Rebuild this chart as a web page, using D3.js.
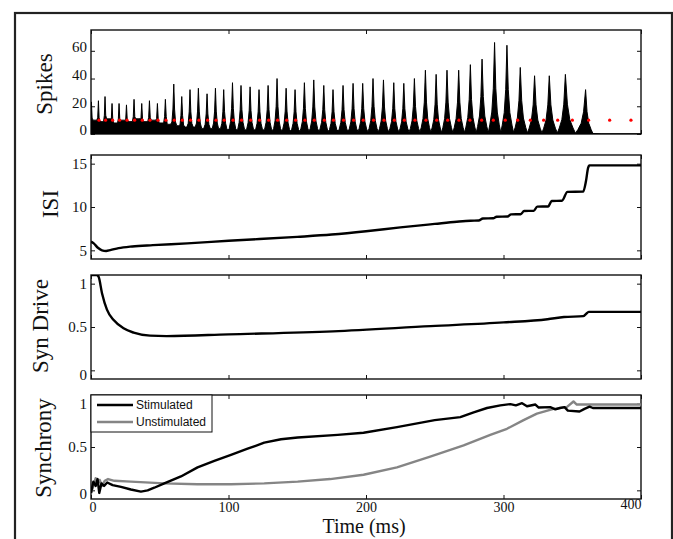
<!DOCTYPE html>
<html>
<head>
<meta charset="utf-8">
<script src="https://cdn.jsdelivr.net/npm/d3@7"></script>
<style>
  body { margin: 0; background: #fff; }
  svg { display: block; }
</style>
</head>
<body>
<svg></svg>
<script>
// ---- data ----
const timeTicks = [0, 100, 200, 300, 400]

// spike histogram: one peak per cycle, plus the level the trace falls to after it
const spikePeakTimes = [0.3, 5.4, 10.2, 15.3, 20.4, 25.8, 31.3, 36.9, 42.5, 48.3,
  54.1, 60.2, 66.0, 72.0, 78.1, 84.4, 90.5, 96.5, 102.9, 109.1,
  115.7, 122.2, 128.8, 135.3, 141.9, 148.4, 155.2, 162.0, 169.3, 176.0,
  183.3, 190.6, 197.6, 205.1, 212.7, 220.2, 227.5, 235.2, 243.2, 251.0,
  258.9, 267.4, 275.9, 284.4, 293.5, 302.5, 312.2, 322.6, 333.3, 345.0, 359.7]
const spikePeakCounts = [23, 24, 27, 22, 22, 21, 25, 22, 24, 22,
  25, 36, 27, 32, 33, 29, 33, 32, 37, 35,
  34, 32, 35, 40, 33, 32, 37, 39, 35, 32,
  35, 36.5, 36.5, 40, 39, 37, 36.5, 40, 46, 43,
  46, 46, 50, 54, 66, 64, 48, 42, 42, 43, 32]
const spikeTroughCounts = [10, 9, 11, 8, 10, 9, 11, 9, 10, 8,
  7, 6, 5, 5, 4, 4, 4, 3,
  3, 3, 3, 3, 2.5, 2.5, 2.5, 2, 2, 2, 2, 2,
  2, 2, 1.5, 1.5, 1.5, 1.5, 1.5, 1.5, 1.5, 1, 1, 1, 1,
  1, 1, 1, 0.8, 0.8, 0.8, 0.6, 0.4]
const spikeTicks = [0, 20, 40, 60]

// red markers: expected cycle times
const cycleTimes = [5.8, 10.6, 15.7, 20.8, 26.2, 31.7, 37.3, 42.9, 48.7, 54.5,
  60.6, 66.4, 72.4, 78.5, 84.8, 90.9, 96.9, 103.3, 109.5, 116.1,
  122.6, 129.2, 135.7, 142.3, 148.8, 155.6, 162.4, 169.7, 176.4, 183.7,
  191.0, 198.0, 205.5, 213.1, 220.6, 227.9, 235.6, 243.6, 251.4, 259.4,
  267.6, 275.6, 284.1, 292.6, 301.3, 310.3, 319.5, 329.2, 339.4, 350.1,
  361.9, 377.2, 392.7]
const cycleLevel = 10

const isiTimes = [0, 2, 5, 8, 11, 14, 20, 30, 45, 70, 100, 150, 175, 200, 225, 250, 266, 276,
  282, 285, 292.5, 295, 303, 305.5, 312.5, 315, 322, 324.5, 332.5, 335, 342.5, 346.5, 358,
  360, 361.5, 362.5, 400]
const isiValues = [6.0, 5.8, 5.3, 5.0, 4.93, 5.02, 5.25, 5.45, 5.6, 5.8, 6.1, 6.55, 6.82, 7.2, 7.65, 8.05, 8.3, 8.42,
  8.45, 8.68, 8.7, 8.88, 8.9, 9.15, 9.17, 9.54, 9.56, 10.04, 10.06, 10.7, 10.72, 11.75, 11.78,
  13.0, 14.5, 14.8, 14.8]
const isiTicks = [5, 10, 15]

const driveTimes = [0, 4, 5.5, 8, 11.6, 16.5, 23.7, 31, 43, 55, 100, 176, 247, 300, 332, 344, 358, 360, 362, 400]
const driveValues = [1.1, 1.1, 1.08, 0.89, 0.70, 0.58, 0.485, 0.435, 0.40, 0.395, 0.415, 0.45, 0.51, 0.553, 0.59, 0.615, 0.625, 0.65, 0.675, 0.675]
const driveTicks = [0, 0.5, 1]

const stimTimes = [0, 1.7, 3.4, 4.8, 6, 7.6, 9.5, 11.8, 15.7, 21.8, 29, 36.3, 41.2, 46, 53.3, 65.4, 77.5,
  89.7, 101.8, 113.9, 126, 138.2, 150.3, 179.4, 198.2, 222.5, 250, 268.6, 278.3, 288, 297.7,
  305, 309, 313.5, 317.1, 323.2, 325.6, 334, 337.7, 341, 344.4, 346.8, 355.3, 358.9, 362.6, 365, 400]
const stimValues = [-0.03, 0.10, 0.05, 0.13, -0.03, 0.08, 0.05, 0.09, 0.06, 0.04, 0.01, -0.015, 0.0, 0.03, 0.08, 0.16, 0.265,
  0.34, 0.41, 0.48, 0.55, 0.59, 0.61, 0.64, 0.665, 0.73, 0.81, 0.845, 0.9, 0.95, 0.98,
  0.995, 0.98, 1.005, 0.97, 0.99, 0.955, 0.96, 0.935, 0.95, 0.96, 0.92, 0.91, 0.94, 0.965, 0.95, 0.95]

const unstimTimes = [0, 1.7, 3.4, 5, 6.3, 8, 10, 12.4, 17, 29, 53.3, 77.5, 101.8, 126, 150.3, 174, 198.2,
  222.5, 246.7, 271, 290.4, 302.5, 314.6, 324.3, 336.4, 346, 350.9, 353.3, 400]
const unstimValues = [-0.03, 0.05, 0.14, 0.08, 0.12, 0.05, 0.11, 0.13, 0.11, 0.10, 0.08, 0.07, 0.07, 0.08, 0.10, 0.13, 0.18,
  0.265, 0.39, 0.52, 0.64, 0.71, 0.81, 0.885, 0.94, 0.96, 1.025, 0.99, 0.99]
const syncTicks = [0, 0.5, 1]

const seriesNames = ["Stimulated", "Unstimulated"]

// ---- layout ----
const width = 673, height = 539
const serif = "'Liberation Serif', 'Times New Roman', serif"

const svg = d3.select("svg").attr("width", width).attr("height", height)

svg.append("rect")
  .attr("x", 15).attr("y", 13).attr("width", 657).attr("height", 560)
  .attr("fill", "none").attr("stroke", "#222").attr("stroke-width", 2.2)

const x = d3.scaleLinear().domain([0, 400]).range([91, 641])

const panels = [
  {id: "spk", title: "Spikes", top: 30, bottom: 134, domain: [0, 75], ticks: spikeTicks, titleX: 52, titleY: 84, labelShift: () => -4},
  {id: "isi", title: "ISI", top: 155, bottom: 259, domain: [4, 16], ticks: isiTicks, titleX: 58, titleY: 204, labelShift: () => 0},
  {id: "drv", title: "Syn Drive", top: 275, bottom: 379, domain: [-0.1, 1.1], ticks: driveTicks, titleX: 48, titleY: 326, labelShift: d => d === 0 ? 4 : 0},
  {id: "syn", title: "Synchrony", top: 395, bottom: 499, domain: [-0.1, 1.1], ticks: syncTicks, titleX: 51, titleY: 448, labelShift: d => d === 0 ? 3 : 0}
]

panels.forEach((p, i) => {
  p.y = d3.scaleLinear().domain(p.domain).range([p.bottom, p.top])
  const last = i === panels.length - 1
  const g = svg.append("g").attr("class", "panel-" + p.id)
  p.g = g

  svg.append("clipPath").attr("id", "clip-" + p.id)
    .append("rect").attr("x", 91).attr("y", p.top).attr("width", 550).attr("height", p.bottom - p.top)

  const left = g.append("g").attr("transform", "translate(91,0)")
    .call(d3.axisLeft(p.y).tickValues(p.ticks).tickSize(-4).tickPadding(4).tickFormat(d3.format("~g")))
  left.selectAll(".tick text").attr("transform", d => `translate(0,${p.labelShift(d)})`)

  g.append("g").attr("transform", "translate(641,0)")
    .call(d3.axisRight(p.y).tickValues(p.ticks).tickSize(-4).tickFormat(""))

  g.append("g").attr("transform", `translate(0,${p.top})`)
    .call(d3.axisTop(x).tickValues(timeTicks).tickSize(-4).tickFormat(""))

  const bottom = g.append("g").attr("transform", `translate(0,${p.bottom})`)
    .call(d3.axisBottom(x).tickValues(timeTicks).tickSize(-4).tickPadding(3).tickFormat(last ? d3.format("d") : ""))

  g.selectAll(".domain").remove()
  g.selectAll(".tick line").attr("stroke", "#111").attr("stroke-width", 1)
  g.selectAll(".tick text").attr("font-family", serif).attr("font-size", 15).attr("fill", "#111")

  if (last) {
    bottom.selectAll(".tick text")
      .attr("font-size", 14)
      .attr("text-anchor", d => d === 0 ? "start" : d === 400 ? "end" : "middle")
      .attr("transform", d => d === 0 ? "translate(-2,0)" : d === 400 ? "translate(0,-3)" : null)
  }

  g.append("rect")
    .attr("x", 91).attr("y", p.top).attr("width", 550).attr("height", p.bottom - p.top)
    .attr("fill", "none").attr("stroke", "#111").attr("stroke-width", 1.4)

  svg.append("text")
    .attr("transform", `translate(${p.titleX},${p.titleY}) rotate(-90)`)
    .attr("text-anchor", "middle")
    .attr("font-family", serif).attr("font-size", 23).attr("fill", "#111")
    .text(p.title)
})

svg.append("text")
  .attr("x", 364).attr("y", 533)
  .attr("text-anchor", "middle")
  .attr("font-family", serif).attr("font-size", 20).attr("fill", "#111")
  .text("Time (ms)")

// ---- spikes ----
const [pSpk, pIsi, pDrv, pSyn] = panels
const peakShape = [[0.38, 0.1], [0.22, 0.24], [0.1, 0.5]]   // (fraction of gap, fraction of peak)

const spikePts = []
spikePeakTimes.forEach((t, i) => {
  const h = spikePeakCounts[i]
  const gl = i > 0 ? t - spikePeakTimes[i - 1] : 0
  const gr = i < spikePeakTimes.length - 1 ? spikePeakTimes[i + 1] - t : 10.6
  const trL = i > 0 ? spikeTroughCounts[i - 1] : h
  const trR = spikeTroughCounts[i]
  if (i === 0) spikePts.push([0, h])
  else peakShape.forEach(([f, k]) => spikePts.push([t - f * gl, Math.max(trL, k * h)]))
  spikePts.push([t, h])
  peakShape.slice().reverse().forEach(([f, k]) => spikePts.push([t + f * gr, Math.max(trR, k * h)]))
  spikePts.push([t + gr / 2, trR])
})
spikePts.push([371, 0], [400, 0])

pSpk.g.append("path")
  .datum(spikePts)
  .attr("clip-path", "url(#clip-spk)")
  .attr("d", d3.area().x(d => x(d[0])).y0(pSpk.y(0)).y1(d => pSpk.y(d[1])))
  .attr("fill", "#000").attr("stroke", "#000").attr("stroke-width", 1).attr("stroke-linejoin", "round")

pSpk.g.selectAll("circle.cycle")
  .data(cycleTimes)
  .join("circle")
  .attr("class", "cycle")
  .attr("cx", d => x(d)).attr("cy", pSpk.y(cycleLevel))
  .attr("r", 1.6)
  .attr("fill", "#f00")

// ---- line panels ----
function drawLine(p, times, values, color, curve) {
  p.g.append("path")
    .datum(times.map((t, i) => [t, values[i]]))
    .attr("clip-path", `url(#clip-${p.id})`)
    .attr("d", d3.line().x(d => x(d[0])).y(d => p.y(d[1])).curve(curve))
    .attr("fill", "none").attr("stroke", color).attr("stroke-width", 2.4)
    .attr("stroke-linejoin", "round")
}

drawLine(pIsi, isiTimes, isiValues, "#000", d3.curveMonotoneX)
drawLine(pDrv, driveTimes, driveValues, "#000", d3.curveMonotoneX)
drawLine(pSyn, unstimTimes, unstimValues, "#858585", d3.curveLinear)
drawLine(pSyn, stimTimes, stimValues, "#000", d3.curveLinear)

// ---- legend ----
const legend = pSyn.g.append("g")
legend.append("rect")
  .attr("x", 91).attr("y", 395).attr("width", 121).attr("height", 37)
  .attr("fill", "#fff").attr("stroke", "#111").attr("stroke-width", 1)

const legendColor = d3.scaleOrdinal(seriesNames, ["#000", "#858585"])
legend.selectAll("g.item")
  .data(seriesNames)
  .join("g")
  .attr("class", "item")
  .attr("transform", (d, i) => `translate(0,${405 + i * 17})`)
  .each(function(d) {
    const item = d3.select(this)
    item.append("line").attr("x1", 97).attr("x2", 133)
      .attr("stroke", legendColor(d)).attr("stroke-width", 2.4)
    item.append("text").attr("x", 136).attr("dy", "0.35em")
      .attr("font-family", "'Liberation Sans', Arial, sans-serif").attr("font-size", 12).attr("fill", "#111")
      .text(d)
  })
</script>
</body>
</html>
